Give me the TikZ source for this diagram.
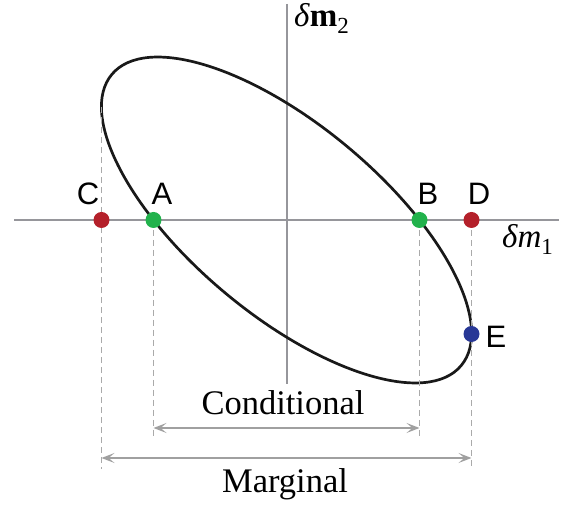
\documentclass[tikz,border=0pt]{standalone}
\usepackage{fontspec}
\setmainfont{Liberation Serif}
\newfontfamily\labfont{Liberation Sans}
\usetikzlibrary{arrows.meta}
\definecolor{ptred}{RGB}{180,32,42}
\definecolor{ptgreen}{RGB}{34,178,76}
\definecolor{ptblue}{RGB}{40,56,150}
\definecolor{axisgray}{RGB}{150,150,155}
\definecolor{dashgray}{RGB}{170,170,170}
\definecolor{arrgray}{RGB}{160,160,160}
\tikzset{
  axisline/.style={draw=axisgray, line width=2pt},
  guide/.style={draw=dashgray, line width=1.3pt, dash pattern=on 6pt off 4pt},
  spanarrow/.style={draw=arrgray, line width=2pt, {Stealth[length=13pt,width=10pt,inset=6pt]}-{Stealth[length=13pt,width=10pt,inset=6pt]}},
  ptdot/.style={circle, inner sep=0pt, minimum size=16pt},
  ptlabel/.style={font=\labfont\fontsize{31}{31}\selectfont, anchor=base, inner sep=0pt},
  captext/.style={font=\fontsize{34.5}{34.5}\selectfont, anchor=base, inner sep=0pt},
}
\begin{document}
\begin{tikzpicture}[x=1pt,y=1pt]
\useasboundingbox (0,0) rectangle (566,508);
% axes
\coordinate (hl) at (14,288);
\coordinate (hr) at (559,288);
\coordinate (vt) at (287,504);
\coordinate (vb) at (287,124);
\draw[axisline] (hl) -- (hr);
\draw[axisline] (vt) -- (vb);
\node[anchor=base west, inner sep=0pt, font=\fontsize{33}{33}\selectfont] (lm2) at (294,481) {\textit{δ}\textbf{m}\raisebox{-7pt}{\fontsize{23}{23}\selectfont 2}};
\node[anchor=base west, inner sep=0pt, font=\fontsize{33}{33}\selectfont] (lm1) at (502,260) {\textit{δm}\raisebox{-7pt}{\fontsize{23}{23}\selectfont 1}};
% ellipse
\coordinate (O) at (286.5,288);
\draw[line width=2.7pt, black!90] [rotate around={-39.8:(O)}] (O) ellipse [x radius=227.4pt, y radius=95.3pt];
% guide coordinates
\coordinate (Cup) at (101.5,401);
\coordinate (Cdn) at (101.5,39);
\coordinate (Adn) at (153.5,72);
\coordinate (Bdn) at (419.5,72);
\coordinate (Ddn) at (471.5,39);
\coordinate (Dup) at (471.5,288);
\coordinate (Aup) at (153.5,288);
\coordinate (Bup) at (419.5,288);
\draw[guide] (Cup) -- (Cdn);
\draw[guide] (Aup) -- (Adn);
\draw[guide] (Bup) -- (Bdn);
\draw[guide] (Dup) -- (Ddn);
% span arrows
\coordinate (condL) at (153.5,80);
\coordinate (condR) at (419.5,80);
\coordinate (margL) at (101.5,50);
\coordinate (margR) at (471.5,50);
\draw[spanarrow] (condL) -- (condR);
\draw[spanarrow] (margL) -- (margR);
\node[captext] (cond) at (283,93) {Conditional};
\node[captext] (marg) at (285,15) {Marginal};
% points
\node[ptdot, fill=ptred] (C) at (101.5,288) {};
\node[ptdot, fill=ptgreen] (A) at (153.5,288) {};
\node[ptdot, fill=ptgreen] (B) at (419.5,288) {};
\node[ptdot, fill=ptred] (D) at (471.5,288) {};
\node[ptdot, fill=ptblue] (E) at (471.5,174) {};
\node[ptlabel] (lC) at (88,303) {C};
\node[ptlabel] (lA) at (162,303) {A};
\node[ptlabel] (lB) at (428,303) {B};
\node[ptlabel] (lD) at (479,303) {D};
\node[ptlabel] (lE) at (496,160) {E};
\end{tikzpicture}
\end{document}
